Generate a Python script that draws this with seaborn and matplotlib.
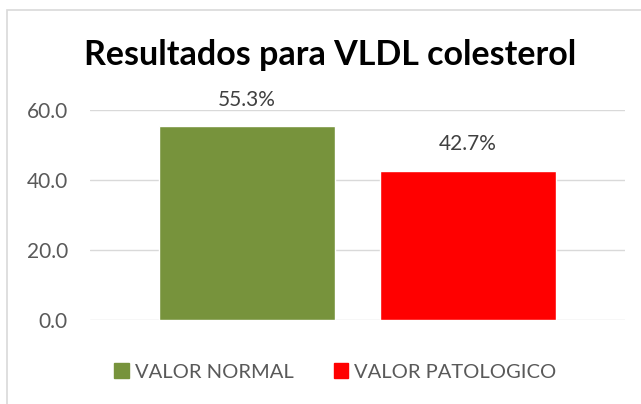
import matplotlib
matplotlib.use("Agg")
import matplotlib.pyplot as plt
import seaborn as sns
import pandas as pd
from matplotlib.patches import Rectangle

# datos
series = ["VALOR NORMAL", "VALOR PATOLOGICO"]
valores = [55.3, 42.7]
colores = ["#77933C", "#FF0000"]
yticks = [0, 20, 40, 60]

df = pd.DataFrame({"cat": ["VLDL"] * len(series), "serie": series, "valor": valores})

sns.set_theme(style="white")
plt.rcParams["font.family"] = ["Lato", "DejaVu Sans"]

fig = plt.figure(figsize=(6.41, 4.04), dpi=100)
ax = fig.add_axes([90 / 641, 1 - 320 / 404, 535 / 641, 210 / 404])

sns.barplot(data=df, x="cat", y="valor", hue="serie", palette=colores,
            width=0.826, gap=0.2, ax=ax, legend=False, saturation=1)

ax.set_ylim(0, 60)
ax.set_yticks(yticks)
ax.set_yticklabels([f"{t:.1f}" for t in yticks], fontsize=15, color="#595959")
ax.set_xticks([])
ax.set_xlabel("")
ax.set_ylabel("")
ax.tick_params(axis="y", length=0, pad=16)
ax.yaxis.grid(True, color="#d9d9d9", linewidth=1)
ax.set_axisbelow(True)
for s in ax.spines.values():
    s.set_visible(False)

for cont in ax.containers:
    ax.bar_label(cont, labels=[f"{v:.1f}%" for v in cont.datavalues],
                 padding=12, fontsize=15, color="#404040", clip_on=False)

fig.text(0.515, 1 - 55 / 404, "Resultados para VLDL colesterol",
         ha="center", va="center", fontsize=24.5, fontweight="bold", color="black")

handles = [Rectangle((0, 0), 1, 1, color=c) for c in colores]
fig.legend(handles, series, loc="center", bbox_to_anchor=(0.523, 1 - 372 / 404),
           ncol=2, frameon=False, fontsize=14.5, handlelength=0.7, handleheight=0.7,
           handletextpad=0.3, columnspacing=2.0, labelcolor="#595959")

# borde del area del grafico
fig.patches.append(Rectangle((7 / 641, -0.1), 1.2, 1 - 10 / 404 + 0.1,
                             transform=fig.transFigure, fill=False,
                             edgecolor="#d9d9d9", linewidth=1.2))

fig.savefig("out.png", dpi=100)
